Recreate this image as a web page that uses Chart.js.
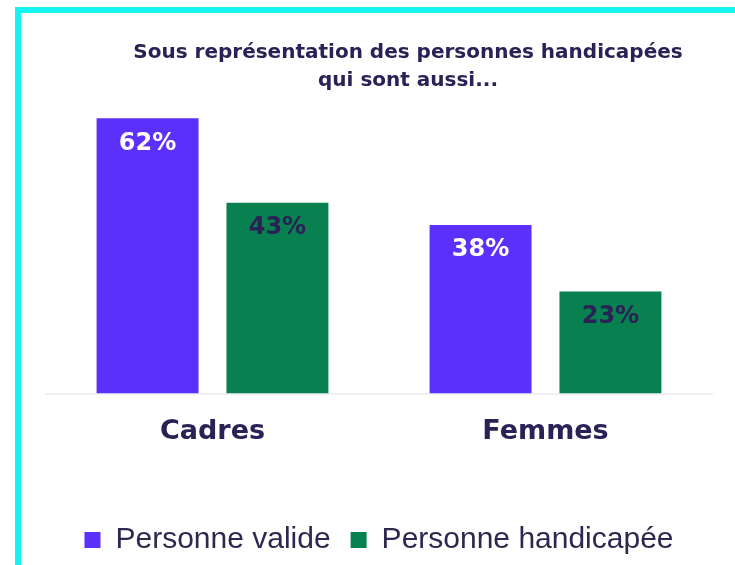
<!DOCTYPE html>
<html>
<head>
<meta charset="utf-8">
<script src="https://cdn.jsdelivr.net/npm/chart.js@4.4.1/dist/chart.umd.min.js"></script>
<style>
  html, body { margin: 0; padding: 0; background: #fff; }
  #wrap { position: relative; width: 735px; height: 565px; overflow: hidden; }
  #cadre {
    position: absolute; left: 15px; top: 7px; width: 740px; height: 552px;
    border-left: 6px solid #14f4f0; border-top: 6px solid #14f4f0;
    border-bottom: 2px solid #c8fbfa;
  }
  canvas { position: absolute; left: 0; top: 0; }
</style>
</head>
<body>
<div id="wrap">
  <div id="cadre"></div>
  <canvas id="graphique" width="735" height="565"></canvas>
</div>
<script>
// Données
var categories = ["Cadres", "Femmes"];
var valides = [62, 38];
var handicapees = [43, 23];
var series = ["Personne valide", "Personne handicapée"];
var titre = ["Sous représentation des personnes handicapées", "qui sont aussi..."];

var violet = "#5c30fb";
var vert = "#08804f";
var marine = "#2a2156";

// Titre et pourcentages dans les barres
var etiquettes = {
  id: "etiquettes",
  afterDatasetsDraw: function (chart) {
    var ctx = chart.ctx;
    ctx.save();
    ctx.textAlign = "center";
    ctx.textBaseline = "middle";
    ctx.fillStyle = marine;
    ctx.font = "bold 20px 'DejaVu Sans'";
    ctx.fillText(titre[0], 408, 53);
    ctx.fillText(titre[1], 408, 81);

    ctx.font = "bold 24px 'DejaVu Sans'";
    chart.data.datasets.forEach(function (ds, i) {
      var meta = chart.getDatasetMeta(i);
      ctx.fillStyle = i === 0 ? "#ffffff" : marine;
      meta.data.forEach(function (bar, j) {
        ctx.fillText(ds.data[j] + "%", bar.x, bar.y + 25);
      });
    });
    ctx.restore();
  }
};

var ctx = document.getElementById("graphique").getContext("2d");
var graphique = new Chart(ctx, {
  type: "bar",
  data: {
    labels: categories,
    datasets: [
      { label: series[0], data: valides, backgroundColor: violet },
      { label: series[1], data: handicapees, backgroundColor: vert }
    ]
  },
  options: {
    responsive: false,
    animation: false,
    categoryPercentage: 0.78,
    barPercentage: 0.785,
    layout: { padding: { left: 46, right: 23, top: 105, bottom: 0 } },
    scales: {
      x: {
        grid: { display: false },
        border: { color: "#eef0f5", width: 2 },
        ticks: {
          color: marine,
          padding: 14,
          font: { family: "'DejaVu Sans'", size: 27, weight: "bold" }
        },
        // espace entre les catégories et la légende
        afterFit: function (scale) { scale.height += 43; }
      },
      y: {
        display: false,
        min: 0,
        max: 65
      }
    },
    plugins: {
      legend: {
        position: "bottom",
        labels: {
          boxWidth: 16,
          boxHeight: 16,
          padding: 20,
          color: "#2d2850",
          font: { family: "'Liberation Sans'", size: 30 }
        }
      },
      tooltip: { enabled: false }
    }
  },
  plugins: [etiquettes]
});
</script>
</body>
</html>
